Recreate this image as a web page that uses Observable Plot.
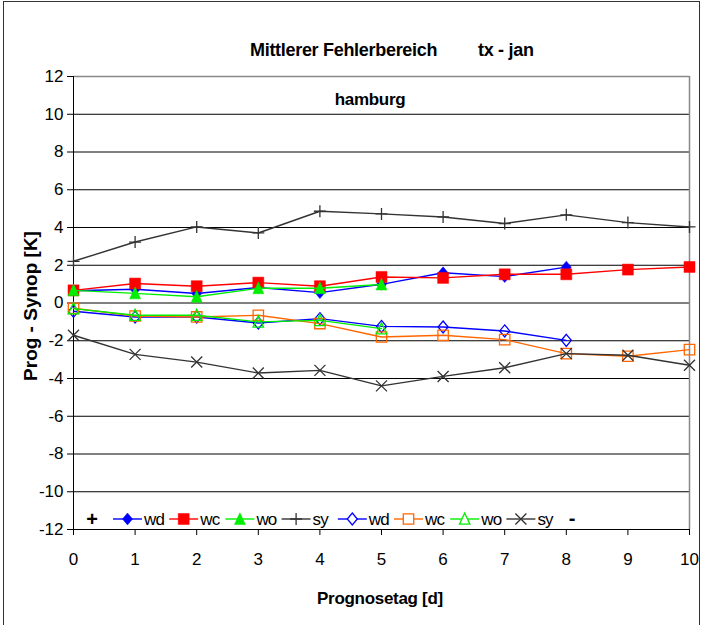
<!DOCTYPE html>
<html><head><meta charset="utf-8">
<script src="https://cdn.jsdelivr.net/npm/d3@7"></script>
<script src="https://cdn.jsdelivr.net/npm/@observablehq/plot@0.6"></script>
<style>
body{margin:0;background:#fff;overflow:hidden}
#wrap{position:relative;width:702px;height:625px;font-family:"Liberation Sans",Arial,sans-serif}
#frame{position:absolute;left:3px;top:1px;width:697px;height:640px;border:1.5px solid #333;box-sizing:border-box;pointer-events:none}
#wrap svg{position:absolute;left:0;top:0}
</style>
</head><body><div id="wrap"><div id="frame"></div></div>
<script>
// ---- data ----
const days = [0, 1, 2, 3, 4, 5, 6, 7, 8, 9, 10];
const yTicks = [-12, -10, -8, -6, -4, -2, 0, 2, 4, 6, 8, 10, 12];
const legendLabels = ["wd", "wc", "wo", "sy", "wd", "wc", "wo", "sy"];
const wdPlus  = [0.65, 0.73, 0.50, 0.82, 0.55, 0.99, 1.60, 1.40, 1.90];
const wcPlus  = [0.67, 1.03, 0.89, 1.08, 0.89, 1.38, 1.33, 1.52, 1.52, 1.77, 1.91];
const woPlus  = [0.67, 0.51, 0.33, 0.78, 0.78, 0.98];
const syPlus  = [2.21, 3.23, 4.03, 3.71, 4.86, 4.72, 4.56, 4.21, 4.67, 4.26, 4.03];
const wdMinus = [-0.44, -0.74, -0.74, -1.06, -0.83, -1.24, -1.27, -1.48, -1.98];
const wcMinus = [-0.28, -0.69, -0.74, -0.65, -1.09, -1.80, -1.71, -1.94, -2.68, -2.82, -2.47];
const woMinus = [-0.30, -0.65, -0.65, -1.00, -0.92, -1.36];
const syMinus = [-1.71, -2.72, -3.13, -3.71, -3.57, -4.39, -3.89, -3.43, -2.68, -2.77, -3.30];

// ---- symbols ----
const R = s => Math.sqrt(s / Math.PI);
const sym = {
  diamond: {draw(c, s) { const r = R(s), h = r * 1.2; c.moveTo(0, -h); c.lineTo(r, 0); c.lineTo(0, h); c.lineTo(-r, 0); c.closePath(); }},
  square: {draw(c, s) { const r = R(s); c.rect(-r, -r, 2 * r, 2 * r); }},
  triangle: {draw(c, s) { const r = R(s); c.moveTo(0, -r * 1.15); c.lineTo(r, r); c.lineTo(-r, r); c.closePath(); }},
  plus: {draw(c, s) { const r = R(s); c.moveTo(-r, 0); c.lineTo(r, 0); c.moveTo(0, -r); c.lineTo(0, r); }},
  times: {draw(c, s) { const r = R(s); c.moveTo(-r, -r); c.lineTo(r, r); c.moveTo(r, -r); c.lineTo(-r, r); }}
};

// ---- series (values + styles kept apart) ----
const seriesValues = [wdPlus, wcPlus, woPlus, syPlus, wdMinus, wcMinus, woMinus, syMinus];
const seriesStyle = [
  {color: "#0000ff", symbol: sym.diamond, filled: true, r: 5},
  {color: "#ff0000", symbol: sym.square, filled: true, r: 5.5},
  {color: "#00ee00", symbol: sym.triangle, filled: true, r: 5.5},
  {color: "#333333", symbol: sym.plus, filled: false, r: 6},
  {color: "#0000ff", symbol: sym.diamond, filled: false, r: 5},
  {color: "#ff6600", symbol: sym.square, filled: false, r: 5.2},
  {color: "#00ee00", symbol: sym.triangle, filled: false, r: 5.2},
  {color: "#333333", symbol: sym.times, filled: false, r: 5.5}
];

const marks = [
  Plot.ruleY(yTicks.filter(t => t > -12 && t < 12), {stroke: "#000", strokeWidth: 1}),
  Plot.ruleY([12], {stroke: "#888", strokeWidth: 1.5}),
  Plot.ruleX([10], {stroke: "#888", strokeWidth: 1.5}),
  Plot.ruleX([0], {stroke: "#000", strokeWidth: 1}),
  Plot.ruleY([-12], {stroke: "#000", strokeWidth: 1}),
  Plot.axisY({ticks: yTicks, tickSize: 6, tickPadding: 4, tickFormat: d => String(d), label: null, fontSize: 17}),
  Plot.axisX({ticks: days, tickSize: 6, tickPadding: 17, tickFormat: d => String(d), label: null, fontSize: 17})
];

seriesValues.forEach((vals, i) => {
  const st = seriesStyle[i];
  const rows = vals.map((v, j) => ({day: days[j], value: v}));
  marks.push(Plot.line(rows, {x: "day", y: "value", stroke: st.color, strokeWidth: 1.4}));
  if (st.filled) {
    marks.push(Plot.dot(rows, {x: "day", y: "value", symbol: st.symbol, r: st.r, fill: st.color, stroke: st.color, strokeWidth: 0.5}));
  } else {
    marks.push(Plot.dot(rows, {x: "day", y: "value", symbol: st.symbol, r: st.r, fill: "none", stroke: st.color, strokeWidth: 1.3}));
  }
});

const chart = Plot.plot({
  width: 702, height: 625,
  marginLeft: 73, marginRight: 13, marginTop: 76, marginBottom: 96,
  x: {domain: [0, 10]},
  y: {domain: [-12, 12]},
  style: {fontFamily: '"Liberation Sans", Arial, sans-serif', fontSize: "17px", color: "#000", background: "transparent", overflow: "visible"},
  marks
});
document.getElementById("wrap").appendChild(chart);

// ---- titles, axis labels, legend ----
const svg = d3.select(chart);
const bold = '"Liberation Sans", Arial, sans-serif';
svg.append("text").attr("x", 250).attr("y", 56).attr("text-anchor", "start").attr("font-size", 18).attr("font-weight", "bold")
  .attr("letter-spacing", "-0.3").attr("font-family", bold).text("Mittlerer Fehlerbereich");
svg.append("text").attr("x", 478).attr("y", 56).attr("text-anchor", "start").attr("font-size", 18).attr("font-weight", "bold")
  .attr("letter-spacing", "-0.3").attr("font-family", bold).text("tx - jan");
svg.append("text").attr("x", 370).attr("y", 105).attr("text-anchor", "middle").attr("font-size", 17)
  .attr("font-weight", "bold").attr("letter-spacing", "-0.3").attr("font-family", bold).text("hamburg");
svg.append("text").attr("transform", "translate(37,306) rotate(-90)").attr("text-anchor", "middle")
  .attr("font-size", 19).attr("font-weight", "bold").attr("font-family", bold).text("Prog - Synop [K]");
svg.append("text").attr("x", 380).attr("y", 604).attr("text-anchor", "middle").attr("font-size", 17)
  .attr("font-weight", "bold").attr("letter-spacing", "-0.3").attr("font-family", bold).text("Prognosetag [d]");

const lg = svg.append("g").attr("font-family", bold);
lg.append("text").attr("x", 92).attr("y", 526).attr("text-anchor", "middle").attr("font-size", 20)
  .attr("font-weight", "bold").text("+");
lg.append("text").attr("x", 572).attr("y", 525).attr("text-anchor", "middle").attr("font-size", 20)
  .attr("font-weight", "bold").text("-");
const legendStart = 113, legendStep = 56.2, ly = 519;
legendLabels.forEach((lab, i) => {
  const st = seriesStyle[i];
  const x0 = legendStart + i * legendStep;
  lg.append("line").attr("x1", x0).attr("x2", x0 + 29).attr("y1", ly).attr("y2", ly)
    .attr("stroke", st.color).attr("stroke-width", 1.4);
  lg.append("path").attr("transform", `translate(${x0 + 14.5},${ly})`)
    .attr("d", d3.symbol().type(st.symbol).size(Math.PI * st.r * st.r)())
    .attr("fill", st.filled ? st.color : "#fff").attr("stroke", st.color).attr("stroke-width", st.filled ? 0.5 : 1.3);
  lg.append("text").attr("x", x0 + 31).attr("y", ly + 6).attr("text-anchor", "start").attr("font-size", 17)
    .attr("letter-spacing", "-0.8").text(lab);
});
</script>
</body></html>
